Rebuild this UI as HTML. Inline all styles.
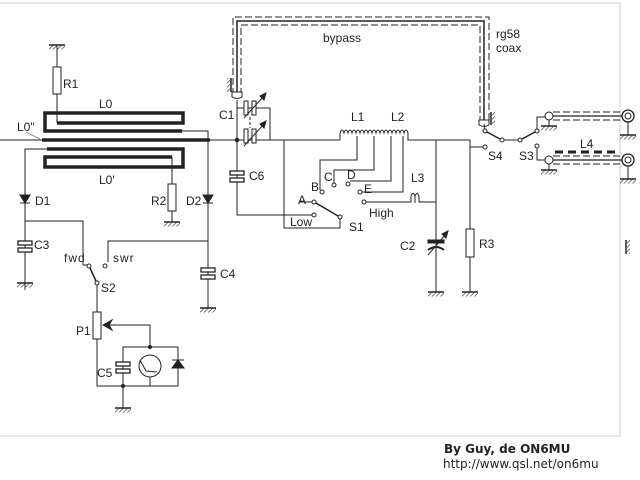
<!DOCTYPE html>
<html><head><meta charset="utf-8"><style>
html,body{margin:0;padding:0;background:#fff;}
svg{display:block;}
text{font-family:"Liberation Sans",sans-serif;font-size:12px;fill:#222;}
</style></head><body>
<svg width="640" height="480" viewBox="0 0 640 480" xmlns="http://www.w3.org/2000/svg">
<defs>
<pattern id="h" width="3" height="3" patternUnits="userSpaceOnUse" patternTransform="rotate(45)"><line x1="0" y1="0" x2="0" y2="3" stroke="#333" stroke-width="1.3"/></pattern>
<g id="gnd"><line x1="-8" y1="0" x2="8" y2="0" stroke="#222" stroke-width="1.5"/><rect x="-8" y="0.5" width="16" height="4" fill="url(#h)"/></g>
</defs>
<path d="M0,3 H620 V436 H0" fill="none" stroke="#ccc" stroke-width="1"/>
<g fill="none" stroke="#222" stroke-width="1">
<line x1="57" y1="46" x2="57" y2="123"/><rect x="53" y="67" width="8" height="27" fill="#fff"/>
<g stroke-width="3.5">
<path d="M182,131 H45 V113 H183 V123 H57"/>
<line x1="42" y1="140" x2="210" y2="140"/>
<path d="M47,149 H183 V167 H45 V157 H172"/>
</g>
<line x1="0" y1="140" x2="340" y2="140"/>
<path d="M182,131 H208 V140"/>
<path d="M47,149 H25 V290"/>
<line x1="26" y1="132" x2="40" y2="139" stroke="#999"/>
<path d="M20,195 H30 L25,203 Z M20,203 H30" fill="#222"/>
<rect x="18" y="241" width="14" height="4" fill="#fff" stroke-width="1.3"/><rect x="18" y="248" width="14" height="4" fill="#fff" stroke-width="1.3"/>
<path d="M25,221 H83 V265"/>
<line x1="172" y1="157" x2="172" y2="222"/><rect x="168" y="184" width="8" height="27" fill="#fff"/>
<line x1="208" y1="140" x2="208" y2="308"/>
<path d="M203,195 H213 L208,203 Z M203,203 H213" fill="#222"/>
<rect x="201" y="268" width="14" height="4" fill="#fff" stroke-width="1.3"/><rect x="201" y="275" width="14" height="4" fill="#fff" stroke-width="1.3"/>
<path d="M208,241 H108 V262"/>
<circle cx="89" cy="266" r="2" fill="#fff"/><circle cx="105" cy="266" r="2" fill="#fff"/><circle cx="97" cy="283" r="2" fill="#fff"/>
<line x1="90" y1="268" x2="96" y2="281" stroke-width="1.5"/>
<line x1="83" y1="265" x2="87" y2="265"/>
<path d="M97,285 V386 H178 V347 H123 V386"/>
<rect x="93" y="312" width="8" height="27" fill="#fff"/>
<path d="M103,325 H150 V347"/>
<path d="M103,325 L112,320 L109,325 L112,330 Z" fill="#222"/>
<rect x="116" y="362" width="14" height="4" fill="#fff" stroke-width="1.3"/><rect x="116" y="369" width="14" height="4" fill="#fff" stroke-width="1.3"/>
<line x1="123" y1="386" x2="123" y2="408"/>
<circle cx="123" cy="386" r="1.5" fill="#222"/><circle cx="150" cy="347" r="1.5" fill="#222"/>
<circle cx="150" cy="366" r="11" fill="#fff"/><line x1="150" y1="377" x2="150" y2="386"/><line x1="146" y1="371" x2="140" y2="360"/><line x1="146" y1="371" x2="157" y2="372"/>
<line x1="172" y1="360" x2="184" y2="360"/><path d="M172,368 H184 L178,360 Z" fill="#222"/>
<path d="M237,95 V21 H484 V122" stroke-width="1.5"/>
<path d="M233,95 V17 H489 V122" stroke-dasharray="7,3"/>
<path d="M241,95 V25 H480 V122" stroke-dasharray="7,3"/>
<path d="M232,92 H242 V97 Q237,100 232,97 Z" fill="#fff"/>
<path d="M479,120 H489 V125 Q484,128 479,125 Z" fill="#fff"/>
<line x1="231" y1="78" x2="231" y2="92" stroke-width="1.5"/><rect x="227" y="78" width="3" height="14" fill="url(#h)" stroke="none"/>
<line x1="491" y1="112" x2="491" y2="125" stroke-width="1.5"/><rect x="492" y="112" width="3" height="13" fill="url(#h)" stroke="none"/>
<path d="M237,100 V215 H314"/>
<circle cx="237" cy="140" r="1.8" fill="#222"/>
<path d="M237,108 H270 V140"/>
<rect x="244" y="101" width="4" height="14" fill="#fff"/><rect x="252" y="101" width="4" height="14" fill="#fff"/>
<rect x="244" y="129" width="4" height="14" fill="#fff"/><rect x="252" y="129" width="4" height="14" fill="#fff"/>
<line x1="244" y1="118" x2="264" y2="96"/><line x1="244" y1="146" x2="264" y2="124"/>
<path d="M266,93 L260,96 L264,100 Z M266,121 L260,124 L264,128 Z" fill="#222"/>
<line x1="250" y1="117" x2="250" y2="128" stroke-dasharray="3,2"/>
<rect x="230" y="171" width="14" height="4" fill="#fff" stroke-width="1.3"/><rect x="230" y="178" width="14" height="4" fill="#fff" stroke-width="1.3"/>
<path d="M284,140 V228 H340 V219"/>
<circle cx="314" cy="215" r="2" fill="#fff"/><circle cx="314" cy="202" r="2" fill="#fff"/><circle cx="340" cy="217" r="2" fill="#fff"/>
<line x1="316" y1="203" x2="338" y2="216" stroke-width="1.5"/>
<line x1="300" y1="202" x2="312" y2="202"/>
<path d="M340,140 V133 q2,-6 4,0 q2,-6 4,0 q2,-6 4,0 q2,-6 4,0 q2,-6 4,0 q2,-6 4,0 q2,-6 4,0 q2,-6 4,0 q2,-6 4,0 q2,-6 4,0 q2,-6 4,0 q2,-6 4,0 q2,-6 4,0 q2,-6 4,0 q2,-6 4,0 q2,-6 4,0 q2,-6 4,0 V140 H470 V292"/>
<path d="M357,136 V160 H320 V190"/><circle cx="322" cy="192" r="2" fill="#fff"/>
<path d="M374,136 V170 H334 V183"/><circle cx="334" cy="185" r="2" fill="#fff"/>
<path d="M391,136 V181 H350"/><circle cx="348" cy="184" r="2" fill="#fff"/>
<path d="M403,136 V192 H362"/><circle cx="360" cy="192" r="2" fill="#fff"/>
<circle cx="364" cy="202" r="2" fill="#fff"/>
<path d="M366,202 H411 V196 q2,-5 4,0 V203 V196 q2,-5 4,0 V202 H436"/>
<line x1="436" y1="140" x2="436" y2="292"/>
<rect x="428" y="240" width="16" height="3" fill="#222"/><path d="M428,250 Q436,244 444,250" stroke-width="2"/>
<line x1="428" y1="255" x2="446" y2="234"/><path d="M448,231 L442,234 L446,238 Z" fill="#222"/>
<rect x="466" y="229" width="8" height="28" fill="#fff"/>
<path d="M470,147 H483"/>
<circle cx="485" cy="147" r="2" fill="#fff"/>
<circle cx="485" cy="131" r="2" fill="#fff"/><circle cx="502" cy="140" r="2" fill="#fff"/><circle cx="520" cy="140" r="2" fill="#fff"/><circle cx="537" cy="131" r="2" fill="#fff"/><circle cx="537" cy="146" r="2" fill="#fff"/>
<line x1="487" y1="132" x2="500" y2="139" stroke-width="1.5"/><line x1="504" y1="140" x2="518" y2="140"/><line x1="522" y1="139" x2="535" y2="132" stroke-width="1.5"/>
<line x1="484" y1="124" x2="485" y2="129"/>
<path d="M537,129 V117 H545"/><path d="M537,148 V160 H545"/>
<line x1="549" y1="116" x2="622" y2="116" stroke-width="1.3"/>
<line x1="553" y1="112" x2="622" y2="112" stroke-dasharray="7,3"/><line x1="553" y1="120" x2="622" y2="120" stroke-dasharray="7,3"/>
<line x1="549" y1="160" x2="622" y2="160" stroke-width="1.3"/>
<line x1="553" y1="156" x2="622" y2="156" stroke-dasharray="7,3"/><line x1="553" y1="164" x2="622" y2="164" stroke-dasharray="7,3"/>
<circle cx="549" cy="116" r="4" fill="#fff"/><circle cx="549" cy="160" r="4" fill="#fff"/>
<line x1="549" y1="120" x2="549" y2="126"/><line x1="549" y1="164" x2="549" y2="170"/>
<circle cx="628" cy="116" r="6" fill="#fff" stroke-width="1.3"/><circle cx="628" cy="116" r="3"/>
<circle cx="628" cy="160" r="6" fill="#fff" stroke-width="1.3"/><circle cx="628" cy="160" r="3"/>
<line x1="628" y1="122" x2="628" y2="135"/><line x1="628" y1="166" x2="628" y2="179"/>
<line x1="555" y1="152" x2="618" y2="152" stroke-width="3" stroke-dasharray="8,5"/>
<line x1="626" y1="240" x2="626" y2="254" stroke-width="1.5"/><rect x="627" y="240" width="3" height="14" fill="url(#h)" stroke="none"/>
</g>
<use href="#gnd" x="57" y="45"/><use href="#gnd" x="172" y="222"/><use href="#gnd" x="25" y="283"/>
<use href="#gnd" x="208" y="308"/><use href="#gnd" x="123" y="408"/><use href="#gnd" x="436" y="292"/>
<use href="#gnd" x="470" y="292"/><use href="#gnd" x="549" y="126"/><use href="#gnd" x="549" y="170"/>
<use href="#gnd" x="628" y="135"/><use href="#gnd" x="628" y="179"/>
<text x="63" y="88">R1</text><text x="99" y="108">L0</text><text x="17" y="131">L0"</text><text x="99" y="184">L0'</text>
<text x="35" y="205">D1</text><text x="151" y="205">R2</text><text x="186" y="205">D2</text>
<text x="34" y="249">C3</text><text x="220" y="278">C4</text>
<text x="64" y="262" font-size="9.5" letter-spacing="1">fwd</text><text x="113" y="262" font-size="9.5" letter-spacing="1">swr</text>
<text x="101" y="292">S2</text><text x="76" y="335">P1</text><text x="97" y="377">C5</text>
<text x="219" y="119">C1</text><text x="249" y="180">C6</text>
<text x="323" y="42">bypass</text><text x="496" y="38">rg58</text><text x="496" y="52">coax</text>
<text x="351" y="121">L1</text><text x="391" y="121">L2</text>
<text x="311" y="191">B</text><text x="324" y="181">C</text><text x="347" y="179">D</text><text x="364" y="193">E</text>
<text x="298" y="204">A</text><text x="290" y="226">Low</text><text x="349" y="231">S1</text><text x="369" y="217">High</text>
<text x="411" y="182">L3</text><text x="400" y="250">C2</text><text x="479" y="248">R3</text>
<text x="488" y="160">S4</text><text x="519" y="160">S3</text><text x="580" y="148">L4</text>
<text x="444" y="453" font-weight="bold" font-size="12.5" style="font-family:'DejaVu Sans',sans-serif" fill="#111">By Guy, de ON6MU</text>
<text x="443" y="468" font-size="10.5" style="font-family:'DejaVu Sans',sans-serif">http://www.qsl.net/on6mu</text>
</svg>
</body></html>
